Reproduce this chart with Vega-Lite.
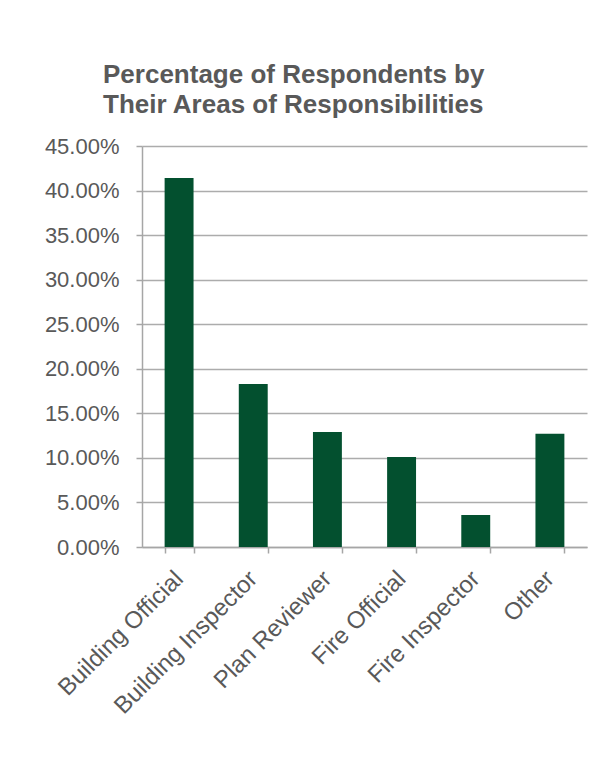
{
  "$schema": "https://vega.github.io/schema/vega-lite/v6.json",
  "autosize": {"type": "none"},
  "width": 445,
  "height": 401,
  "padding": {"left": 142, "top": 146, "right": 26, "bottom": 224},
  "background": "white",
  "title": {
    "text": ["Percentage of Respondents by", "Their Areas of Responsibilities"],
    "anchor": "start",
    "frame": "group",
    "align": "left",
    "dx": -39,
    "offset": 17,
    "font": "Liberation Sans",
    "fontSize": 26,
    "fontWeight": "bold",
    "color": "#595959",
    "lineHeight": 30
  },
  "data": {
    "values": [
      {"role": "Building Official", "pct": 0.414},
      {"role": "Building Inspector", "pct": 0.183},
      {"role": "Plan Reviewer", "pct": 0.129},
      {"role": "Fire Official", "pct": 0.101},
      {"role": "Fire Inspector", "pct": 0.036},
      {"role": "Other", "pct": 0.127}
    ]
  },
  "mark": {"type": "bar", "color": "#03502f"},
  "encoding": {
    "x": {
      "field": "role",
      "type": "nominal",
      "sort": null,
      "scale": {"paddingInner": 0.61, "paddingOuter": 0.305},
      "axis": {
        "title": null,
        "labelAngle": -45,
        "labelAlign": "right",
        "labelBaseline": "middle",
        "labelFont": "Liberation Sans",
        "labelFontSize": 24,
        "labelColor": "#595959",
        "labelPadding": 22,
        "labelLimit": 400,
        "labelOverlap": false,
        "tickBand": "extent",
        "tickSize": 6,
        "tickColor": "#a6a6a6",
        "tickWidth": 1.5,
        "domainColor": "#a6a6a6",
        "domainWidth": 1.5,
        "grid": false
      }
    },
    "y": {
      "field": "pct",
      "type": "quantitative",
      "scale": {"domain": [0, 0.45], "nice": false},
      "axis": {
        "title": null,
        "values": [0, 0.05, 0.1, 0.15, 0.2, 0.25, 0.3, 0.35, 0.4, 0.45],
        "format": ".2%",
        "labelFont": "Liberation Sans",
        "labelFontSize": 22,
        "labelColor": "#595959",
        "labelPadding": 17,
        "labelDy": 2,
        "tickSize": 6,
        "tickColor": "#a6a6a6",
        "tickWidth": 1.5,
        "domainColor": "#a6a6a6",
        "domainWidth": 1.5,
        "grid": true,
        "gridColor": "#acacac",
        "gridWidth": 1.5
      }
    }
  },
  "config": {"view": {"stroke": null}}
}
